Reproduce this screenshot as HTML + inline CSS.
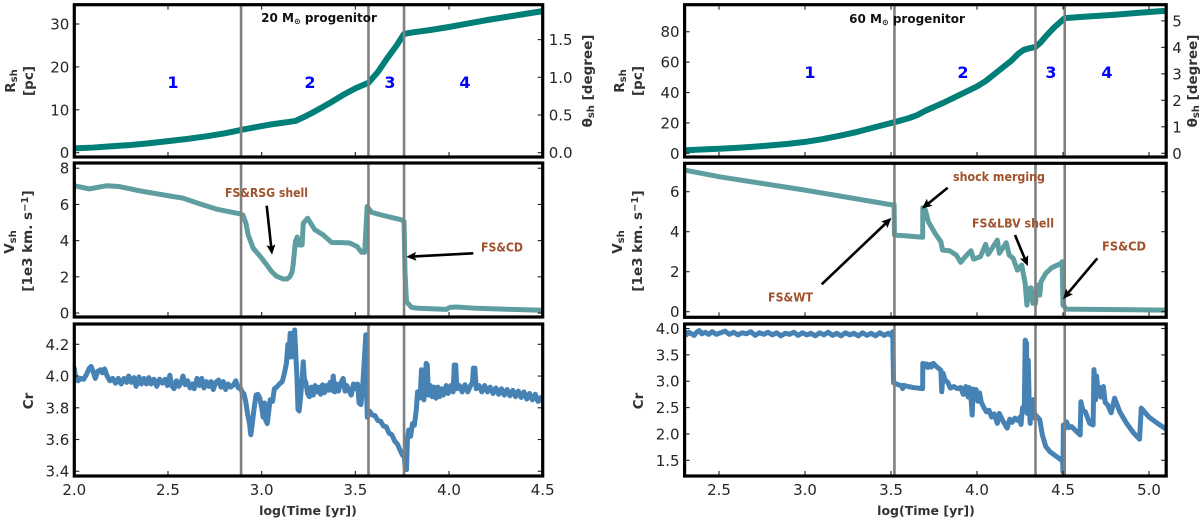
<!DOCTYPE html>
<html lang="en">
<head>
<meta charset="utf-8">
<title>Shock evolution for 20 and 60 solar mass progenitors</title>
<style>
html,body{margin:0;padding:0;background:#fff;width:1200px;height:521px;overflow:hidden}
svg{display:block;filter:blur(0.35px)}
text{font-family:"DejaVu Sans","Liberation Sans",sans-serif}
.tick{font-size:15px;fill:#262626}
.lab{font-size:13.5px;font-weight:bold;fill:#333}
.xlab{font-size:12.5px;font-weight:bold;fill:#333}
.ann{font-size:12px;font-weight:bold;fill:#a0522d}
.num{font-size:16px;font-weight:bold;fill:#0000ff;text-anchor:middle}
.ttl{font-size:12px;font-weight:bold;fill:#111;text-anchor:middle}
</style>
</head>
<body>
<svg id="figure" xmlns="http://www.w3.org/2000/svg" width="1200" height="521" viewBox="0 0 1200 521">
<defs>
<marker id="ah" markerWidth="10" markerHeight="10" refX="7" refY="4.5" orient="auto" markerUnits="userSpaceOnUse"><path d="M0 0 L10 4.5 L0 9 L2 4.5 Z" fill="#000"/></marker>
</defs>
<g id="marks"></g>
<g>
<text class="lab" transform="translate(15,81) rotate(-90)" text-anchor="middle">R<tspan font-size="10" dy="2">sh</tspan></text>
<text class="lab" transform="translate(33,81) rotate(-90)" text-anchor="middle">[pc]</text>
<text class="lab" transform="translate(592,81) rotate(-90)" text-anchor="middle">θ<tspan font-size="10" dy="2">sh</tspan><tspan dy="-2"> [degree]</tspan></text>
<text class="lab" transform="translate(14,242) rotate(-90)" text-anchor="middle">V<tspan font-size="10" dy="2">sh</tspan></text>
<text class="lab" transform="translate(32,241) rotate(-90)" text-anchor="middle">[1e3 km. s<tspan font-size="10" dy="-4">−1</tspan><tspan dy="4">]</tspan></text>
<text class="lab" transform="translate(33,401) rotate(-90)" text-anchor="middle">Cr</text>
<text class="xlab" x="308" y="515" text-anchor="middle">log(Time [yr])</text>
<text class="lab" transform="translate(624,81) rotate(-90)" text-anchor="middle">R<tspan font-size="10" dy="2">sh</tspan></text>
<text class="lab" transform="translate(642,81) rotate(-90)" text-anchor="middle">[pc]</text>
<text class="lab" transform="translate(1197,81) rotate(-90)" text-anchor="middle">θ<tspan font-size="10" dy="2">sh</tspan><tspan dy="-2"> [degree]</tspan></text>
<text class="lab" transform="translate(622,242) rotate(-90)" text-anchor="middle">V<tspan font-size="10" dy="2">sh</tspan></text>
<text class="lab" transform="translate(642,241) rotate(-90)" text-anchor="middle">[1e3 km. s<tspan font-size="10" dy="-4">−1</tspan><tspan dy="4">]</tspan></text>
<text class="lab" transform="translate(643,401) rotate(-90)" text-anchor="middle">Cr</text>
<text class="xlab" x="926" y="515" text-anchor="middle">log(Time [yr])</text>
</g>
<g>
<text class="ttl" x="319" y="22">20 M<tspan font-size="8" dy="2">⊙</tspan><tspan dy="-2"> progenitor</tspan></text>
<text class="ttl" x="907" y="23">60 M<tspan font-size="8" dy="2">⊙</tspan><tspan dy="-2"> progenitor</tspan></text>
<text class="num" x="173" y="88">1</text>
<text class="num" x="310" y="88">2</text>
<text class="num" x="390" y="88">3</text>
<text class="num" x="465" y="88">4</text>
<text class="num" x="810" y="78">1</text>
<text class="num" x="963" y="78">2</text>
<text class="num" x="1051" y="78">3</text>
<text class="num" x="1107" y="78">4</text>
<text class="ann" x="225" y="197" textLength="83" lengthAdjust="spacingAndGlyphs">FS&amp;RSG shell</text>
<text class="ann" x="481" y="251.5" textLength="42" lengthAdjust="spacingAndGlyphs">FS&amp;CD</text>
<text class="ann" x="768" y="301.5" textLength="45" lengthAdjust="spacingAndGlyphs">FS&amp;WT</text>
<text class="ann" x="953" y="181" textLength="92" lengthAdjust="spacingAndGlyphs">shock merging</text>
<text class="ann" x="972" y="227.5" textLength="82" lengthAdjust="spacingAndGlyphs">FS&amp;LBV shell</text>
<text class="ann" x="1102" y="250.5" textLength="44" lengthAdjust="spacingAndGlyphs">FS&amp;CD</text>
<line x1="266.7" y1="205.7" x2="271.7" y2="251.7" stroke="#000" stroke-width="2.6" marker-end="url(#ah)"/>
<line x1="473.3" y1="253.3" x2="409.3" y2="256.7" stroke="#000" stroke-width="2.6" marker-end="url(#ah)"/>
<line x1="821.7" y1="284.3" x2="889.3" y2="220" stroke="#000" stroke-width="2.6" marker-end="url(#ah)"/>
<line x1="947.7" y1="187.7" x2="924.3" y2="206.7" stroke="#000" stroke-width="2.6" marker-end="url(#ah)"/>
<line x1="1015" y1="235" x2="1026.7" y2="263.3" stroke="#000" stroke-width="2.6" marker-end="url(#ah)"/>
<line x1="1097.3" y1="258.3" x2="1065" y2="296.7" stroke="#000" stroke-width="2.6" marker-end="url(#ah)"/>
</g>
</svg>
<script>
const phaseTimes20 = [2.89, 3.57, 3.76];
const phaseTimes60 = [3.52, 4.34, 4.51];

const xTicks20 = [2.0, 2.5, 3.0, 3.5, 4.0, 4.5];
const xTicks60 = [2.5, 3.0, 3.5, 4.0, 4.5, 5.0];
const radiusTicks20 = [0, 10, 20, 30];
const thetaTicks20 = [0.0, 0.5, 1.0, 1.5];
const velocityTicks20 = [0, 2, 4, 6, 8];
const crTicks20 = [3.4, 3.6, 3.8, 4.0, 4.2];
const radiusTicks60 = [0, 20, 40, 60, 80];
const thetaTicks60 = [0, 1, 2, 3, 4, 5];
const velocityTicks60 = [0, 2, 4, 6];
const crTicks60 = [1.5, 2.0, 2.5, 3.0, 3.5, 4.0];

const radiusTime20 = [2.0,2.1,2.2,2.3,2.4,2.5,2.6,2.7,2.8,2.89,2.95,3.0,3.05,3.1,3.15,3.18,3.22,3.27,3.32,3.38,3.44,3.5,3.57,3.62,3.67,3.72,3.76,3.8,3.9,4.0,4.1,4.2,4.3,4.4,4.5];
const radiusValue20 = [1.0,1.2,1.5,1.8,2.2,2.7,3.2,3.8,4.5,5.3,5.8,6.2,6.6,6.9,7.2,7.4,8.2,9.3,10.5,12,13.6,15,16.3,18.8,22,25,27.7,28,28.6,29.3,30.1,30.9,31.6,32.3,33];

const velocityTime20 = [2.0,2.08,2.17,2.24,2.35,2.49,2.58,2.67,2.76,2.884,2.9,2.916,2.928,2.955,3.0,3.03,3.053,3.08,3.115,3.135,3.15,3.162,3.168,3.18,3.19,3.2,3.216,3.222,3.245,3.284,3.328,3.373,3.426,3.47,3.51,3.533,3.55,3.563,3.586,3.648,3.746,3.76,3.765,3.773,3.8,3.835,3.987,4.004,4.04,4.147,4.5];
const velocityValue20 = [7.03,6.86,7.03,6.99,6.75,6.5,6.35,6.03,5.74,5.48,5.42,4.96,4.32,3.58,3.03,2.62,2.29,2.03,1.88,1.88,2.0,2.25,2.66,3.95,4.2,3.76,3.76,4.96,5.24,4.6,4.32,3.9,3.89,3.87,3.67,3.36,3.36,5.89,5.57,5.39,5.15,5.06,2.3,0.63,0.31,0.26,0.2,0.31,0.33,0.26,0.15];

const crTime20 = [
2.0,2.008,2.02,2.035,2.05,2.065,2.08,2.09,2.10,2.112,
2.125,2.14,2.15,2.162,2.175,2.19,2.205,2.22,2.235,2.25,
2.265,2.28,2.29,2.305,2.318,2.33,2.345,2.358,2.372,2.385,
2.398,2.41,2.425,2.44,2.455,2.47,2.485,2.497,2.51,2.52,
2.532,2.545,2.558,2.57,2.58,2.592,2.605,2.618,2.63,2.64,
2.655,2.668,2.68,2.692,2.705,2.718,2.73,2.742,2.755,2.77,
2.783,2.795,2.808,2.82,2.835,2.85,2.862,2.875,2.885,2.895,
2.905,2.915,2.925,2.935,2.942,2.95,2.96,2.97,2.98,2.99,
3.0,3.008,3.015,3.022,3.03,3.038,3.045,3.058,3.068,3.08,
3.095,3.11,3.122,3.132,3.14,3.146,3.152,3.158,3.164,3.17,
3.176,3.182,3.188,3.194,3.2,3.208,3.216,3.222,3.228,3.236,
3.245,3.255,3.265,3.275,3.285,3.295,3.305,3.315,3.325,3.335,
3.345,3.355,3.365,3.375,3.382,3.39,3.4,3.41,3.42,3.435,
3.445,3.455,3.465,3.478,3.49,3.5,3.512,3.52,3.53,3.54,
3.548,3.556,3.56,3.564,3.575,3.59,3.605,3.62,3.635,3.65,
3.665,3.68,3.695,3.71,3.725,3.74,3.752,3.76,3.766,3.773,
3.778,3.785,3.795,3.805,3.815,3.825,3.832,3.84,3.848,3.853,
3.86,3.866,3.872,3.878,3.884,3.89,3.9,3.91,3.92,3.93,
3.94,3.95,3.96,3.97,3.985,3.995,4.01,4.022,4.028,4.036,
4.042,4.055,4.07,4.085,4.1,4.115,4.125,4.13,4.138,4.145,
4.16,4.175,4.19,4.205,4.22,4.235,4.25,4.265,4.28,4.295,
4.31,4.325,4.34,4.355,4.37,4.385,4.4,4.415,4.43,4.445,
4.46,4.475,4.49,4.5];
const crValue20 = [
4.05,3.98,3.97,3.985,3.98,4.01,4.05,4.06,4.03,3.985,
4.03,4.04,4.02,4.045,4.0,3.97,3.985,3.955,3.985,3.95,
3.985,3.96,4.0,3.96,3.99,3.935,3.995,3.95,3.985,3.95,
3.99,3.95,3.98,3.935,3.98,3.955,3.98,3.94,4.005,3.94,
3.92,3.97,3.935,3.96,4.0,3.945,3.97,3.925,3.95,3.92,
3.985,3.94,3.985,3.925,3.965,3.935,3.965,3.915,3.96,3.975,
3.93,3.965,3.915,3.95,3.93,3.945,3.97,3.925,3.93,3.9,
3.89,3.84,3.76,3.70,3.63,3.7,3.8,3.88,3.885,3.86,
3.8,3.74,3.83,3.72,3.70,3.78,3.85,3.84,3.92,3.93,
3.95,3.965,4.02,4.08,4.2,4.12,4.27,4.12,4.27,4.14,
4.29,4.14,4.0,3.79,3.78,3.87,3.98,4.09,3.98,3.96,
3.89,3.87,3.93,3.88,3.94,3.9,3.93,3.885,3.945,3.895,
3.94,3.91,3.96,3.91,4.0,3.9,3.95,3.905,3.95,3.985,
3.905,3.94,3.91,3.88,3.95,3.92,3.95,3.83,3.82,3.95,
4.1,4.26,3.9,3.74,3.78,3.755,3.75,3.72,3.715,3.685,
3.68,3.64,3.63,3.59,3.57,3.53,3.5,3.52,3.42,3.41,
3.6,3.66,3.62,3.7,3.69,3.78,3.9,3.86,3.92,4.04,
3.88,3.85,3.95,4.08,4.07,3.88,3.94,3.87,3.93,3.86,
3.93,3.87,3.92,3.88,3.94,3.89,3.94,3.9,4.07,4.07,
3.92,3.94,3.9,3.945,3.9,3.94,3.96,4.05,4.05,3.92,
3.94,3.9,3.94,3.9,3.93,3.89,3.925,3.885,3.92,3.88,
3.915,3.875,3.91,3.87,3.905,3.865,3.9,3.855,3.89,3.85,
3.885,3.84,3.865,3.84];

const radiusTime60 = [2.3,2.4,2.5,2.6,2.7,2.8,2.9,3.0,3.1,3.2,3.3,3.4,3.52,3.6,3.65,3.7,3.8,3.9,4.0,4.05,4.1,4.15,4.2,4.24,4.27,4.3,4.34,4.37,4.4,4.45,4.51,4.6,4.8,5.0,5.1];
const radiusValue60 = [2,2.5,3,3.6,4.3,5.2,6.2,7.5,9.3,11.5,14,17,20.5,23,25,28,33,38.5,44,47.5,52,56.5,61,65.5,68,69,70,73,77,83,89,89.7,91.2,93,93.8];

const velocityTime60 = [2.3,2.5,3.0,3.513,3.518,3.52,3.58,3.684,3.685,3.70,3.717,3.756,3.79,3.80,3.84,3.88,3.905,3.94,3.965,3.98,4.02,4.05,4.065,4.118,4.13,4.17,4.187,4.21,4.235,4.26,4.28,4.29,4.305,4.315,4.325,4.34,4.35,4.365,4.372,4.40,4.435,4.49,4.495,4.50,4.52,5.1];
const velocityValue60 = [7.08,6.75,6.08,5.33,5.37,3.83,3.8,3.72,5.2,5.08,4.5,3.92,3.5,3.08,3.05,2.83,2.47,2.83,3.05,2.63,2.75,3.37,2.87,3.58,2.92,3.45,2.83,2.67,2.08,2.33,1.42,0.33,1.17,1.2,0.42,0.42,1.33,0.83,1.5,1.92,2.2,2.42,2.5,0.33,0.13,0.08];

const crTime60 = [
2.3,2.31,2.325,2.34,2.355,2.37,2.385,2.4,2.42,2.44,
2.46,2.485,2.51,2.535,2.56,2.585,2.61,2.635,2.66,2.685,
2.71,2.735,2.76,2.785,2.81,2.835,2.86,2.885,2.91,2.935,
2.96,2.985,3.01,3.035,3.06,3.085,3.11,3.135,3.16,3.185,
3.21,3.235,3.26,3.285,3.31,3.335,3.36,3.385,3.41,3.435,
3.46,3.485,3.5,3.51,3.515,3.53,3.545,3.56,3.568,3.575,
3.6,3.63,3.66,3.684,3.685,3.695,3.705,3.715,3.725,3.735,
3.746,3.76,3.775,3.79,3.795,3.803,3.815,3.83,3.845,3.865,
3.885,3.905,3.92,3.935,3.948,3.955,3.965,3.972,3.978,3.985,
3.995,4.005,4.015,4.025,4.04,4.055,4.07,4.085,4.1,4.118,
4.13,4.15,4.175,4.19,4.205,4.22,4.24,4.25,4.256,4.265,
4.275,4.28,4.288,4.292,4.298,4.304,4.309,4.318,4.328,4.335,
4.34,4.365,4.38,4.40,4.425,4.45,4.48,4.498,4.5,4.502,
4.51,4.52,4.535,4.55,4.575,4.6,4.604,4.615,4.63,4.655,
4.675,4.68,4.69,4.695,4.705,4.715,4.72,4.735,4.745,4.76,
4.78,4.8,4.83,4.87,4.91,4.945,4.955,5.0,5.05,5.1];
const crValue60 = [
3.95,3.88,3.93,3.9,3.87,3.93,3.96,3.9,3.93,3.89,
3.94,3.89,3.92,3.95,3.89,3.93,3.88,3.92,3.9,3.94,
3.87,3.92,3.89,3.93,3.88,3.92,3.86,3.91,3.89,3.93,
3.87,3.92,3.88,3.91,3.86,3.92,3.88,3.93,3.87,3.91,
3.86,3.92,3.88,3.91,3.86,3.92,3.87,3.91,3.86,3.92,
3.87,3.91,3.87,3.94,2.97,2.95,2.93,2.92,2.86,2.92,
2.9,2.88,2.87,2.86,3.34,3.27,3.33,3.26,3.32,3.27,
3.34,3.29,3.25,3.21,2.80,3.15,3.02,2.98,2.87,2.9,
2.86,2.88,2.75,2.9,2.7,2.88,2.68,2.36,2.85,2.7,
2.84,2.62,2.78,2.6,2.5,2.42,2.45,2.32,2.38,2.2,
2.39,2.25,2.11,2.28,2.22,2.3,2.25,2.32,2.18,2.5,
2.45,3.78,3.72,2.39,3.4,2.5,2.2,2.62,2.65,2.3,
2.36,2.27,1.98,1.76,1.66,1.6,1.53,1.48,1.28,2.17,
2.1,2.23,2.12,2.14,2.06,1.98,2.61,2.45,2.42,2.2,
2.17,3.22,2.65,3.1,2.75,2.88,2.7,2.9,2.6,2.55,
2.4,2.68,2.42,2.2,2.02,1.9,2.49,2.32,2.2,2.09];

const svg = document.getElementById('figure');
const marks = document.getElementById('marks');
const NS = 'http://www.w3.org/2000/svg';

function scaleLinear(d0, d1, r0, r1) {
  return v => r0 + (v - d0) * (r1 - r0) / (d1 - d0);
}
function node(tag, attrs) {
  const el = document.createElementNS(NS, tag);
  for (const k in attrs) el.setAttribute(k, attrs[k]);
  marks.appendChild(el);
  return el;
}
function drawSeries(prefix, xs, ys, sx, sy, color, width, clipId) {
  let d = '';
  xs.forEach((t, i) => { d += (i ? 'L' : 'M') + sx(t).toFixed(2) + ' ' + sy(ys[i]).toFixed(2); });
  const el = node('path', {d: d, fill: 'none', stroke: color, 'stroke-width': width, 'stroke-linejoin': 'round', 'stroke-linecap': 'round', 'clip-path': 'url(#' + clipId + ')'});
  
  
}
function drawVlines(prefix, times, sx, top, bottom) {
  times.forEach(t => {
    const el = node('line', {x1: sx(t), x2: sx(t), y1: top, y2: bottom, stroke: '#808080', 'stroke-width': 2.6});
    
    
  });
}
function tickLine(prefix, x1, y1, x2, y2) {
  const el = node('line', {x1: x1, y1: y1, x2: x2, y2: y2, stroke: '#222', 'stroke-width': 1.1});
  
  
}
function tickText(prefix, x, y, anchor, str) {
  const el = node('text', {x: x, y: y, 'text-anchor': anchor, class: 'tick'});
  
  
  el.textContent = str;
}
function frame(prefix, L, T, R, B) {
  const el = node('rect', {x: L, y: T, width: R - L, height: B - T, fill: 'none', stroke: '#000', 'stroke-width': 3.2});
  
  
}
function clip(id, L, T, R, B) {
  const defs = svg.querySelector('defs');
  const c = document.createElementNS(NS, 'clipPath');
  c.setAttribute('id', id);
  const r = document.createElementNS(NS, 'rect');
  r.setAttribute('x', L); r.setAttribute('y', T);
  r.setAttribute('width', R - L); r.setAttribute('height', B - T);
  c.appendChild(r);
  defs.appendChild(c);
}
function fmt(v, digits) { return v.toFixed(digits); }

function drawColumn(cfg) {
  const sx = scaleLinear(cfg.xDomain[0], cfg.xDomain[1], cfg.L, cfg.R);
  cfg.panels.forEach((p, idx) => {
    const sy = scaleLinear(p.yDomain[0], p.yDomain[1], p.B, p.T);
    const id = cfg.name + '-clip-' + idx;
    clip(id, cfg.L, p.T, cfg.R, p.B);
    drawSeries(cfg.name + '-' + p.name, p.xs, p.ys, sx, sy, p.color, p.width, id);
    drawVlines(cfg.name + '-' + p.name, cfg.phases, sx, p.T, p.B);
    cfg.xTicks.forEach(t => {
      tickLine(cfg.name + '-' + p.name + '-x', sx(t), p.B, sx(t), p.B - 5);
      if (idx === 0) tickLine(cfg.name + '-' + p.name + '-top', sx(t), p.T, sx(t), p.T + 5);
    });
    p.yTicks.forEach(v => {
      tickLine(cfg.name + '-' + p.name + '-y', cfg.L, sy(v), cfg.L + 5, sy(v));
      if (!p.yDomain2) tickLine(cfg.name + '-' + p.name + '-y-right', cfg.R, sy(v), cfg.R - 5, sy(v));
      tickText(cfg.name + '-' + p.name + '-y', cfg.L - 5, sy(v) + 5.5, 'end', fmt(v, p.digits));
    });
    if (p.yDomain2) {
      const sy2 = scaleLinear(p.yDomain2[0], p.yDomain2[1], p.B, p.T);
      p.yTicks2.forEach(v => {
        tickLine(cfg.name + '-theta', cfg.R, sy2(v), cfg.R - 5, sy2(v));
        tickText(cfg.name + '-theta', cfg.R + 6, sy2(v) + 5.5, 'start', fmt(v, p.digits2));
      });
    }
    frame(cfg.name + '-' + p.name, cfg.L, p.T, cfg.R, p.B);
    if (idx === cfg.panels.length - 1) {
      cfg.xTicks.forEach(t => tickText(cfg.name + '-x', sx(t), 495, 'middle', fmt(t, 1)));
    }
  });
}

drawColumn({
  name: 'progenitor-20', xDomain: [2.0, 4.5], L: 74.3, R: 542.7,
  phases: phaseTimes20, xTicks: xTicks20,
  panels: [
    {name: 'radius', T: 4.7, B: 157, yDomain: [-1, 34.5], yTicks: radiusTicks20, digits: 0,
     yDomain2: [-0.057, 1.963], yTicks2: thetaTicks20, digits2: 1,
     xs: radiusTime20, ys: radiusValue20, color: '#007f78', width: 6},
    {name: 'velocity', T: 163, B: 317, yDomain: [-0.22, 8.29], yTicks: velocityTicks20, digits: 0,
     xs: velocityTime20, ys: velocityValue20, color: '#5f9ea0', width: 5},
    {name: 'cr', T: 324, B: 476, yDomain: [3.37, 4.328], yTicks: crTicks20, digits: 1,
     xs: crTime20, ys: crValue20, color: '#4682b4', width: 5}
  ]
});
drawColumn({
  name: 'progenitor-60', xDomain: [2.3, 5.1], L: 684.6, R: 1166.2,
  phases: phaseTimes60, xTicks: xTicks60,
  panels: [
    {name: 'radius', T: 4.7, B: 157, yDomain: [-2.43, 97.8], yTicks: radiusTicks60, digits: 0,
     yDomain2: [-0.14, 5.61], yTicks2: thetaTicks60, digits2: 0,
     xs: radiusTime60, ys: radiusValue60, color: '#007f78', width: 6},
    {name: 'velocity', T: 163.3, B: 317.3, yDomain: [-0.28, 7.42], yTicks: velocityTicks60, digits: 0,
     xs: velocityTime60, ys: velocityValue60, color: '#5f9ea0', width: 5},
    {name: 'cr', T: 324, B: 476, yDomain: [1.202, 4.086], yTicks: crTicks60, digits: 1,
     xs: crTime60, ys: crValue60, color: '#4682b4', width: 5}
  ]
});
</script>
</body>
</html>
